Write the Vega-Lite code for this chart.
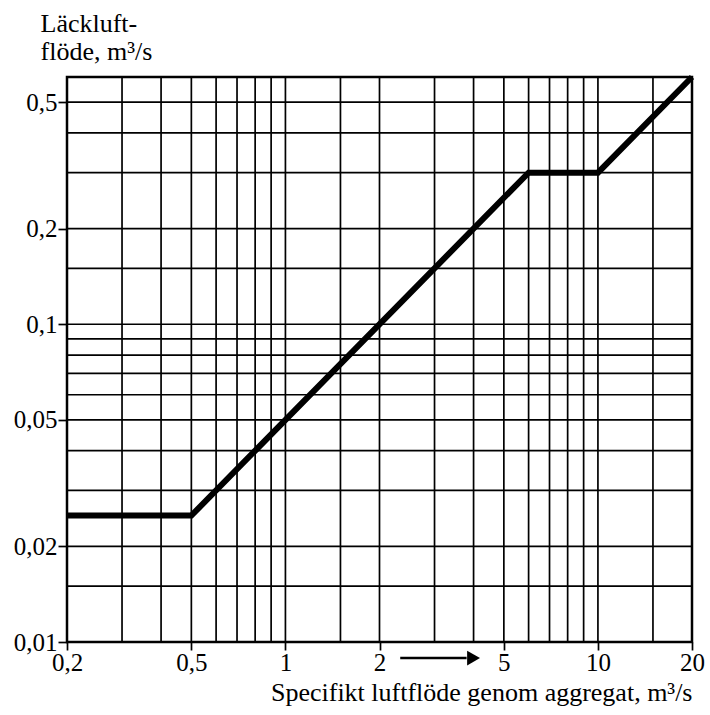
{
  "$schema": "https://vega.github.io/schema/vega-lite/v6.json",
  "width": 625,
  "height": 565,
  "autosize": "none",
  "padding": {"left": 67, "top": 77, "right": 18, "bottom": 73},
  "background": "white",
  "config": {
    "view": {"stroke": "black", "strokeWidth": 2.5},
    "font": "Liberation Serif"
  },
  "datasets": {
    "curve": [
      {"x": 0.2, "y": 0.025},
      {"x": 0.5, "y": 0.025},
      {"x": 6, "y": 0.3},
      {"x": 10, "y": 0.3},
      {"x": 20, "y": 0.6}
    ],
    "xgrid": [
      {"g": 0.3}, {"g": 0.4}, {"g": 0.5}, {"g": 0.6}, {"g": 0.7}, {"g": 0.8}, {"g": 0.9},
      {"g": 1}, {"g": 1.5}, {"g": 2}, {"g": 3}, {"g": 4}, {"g": 5}, {"g": 6}, {"g": 7},
      {"g": 8}, {"g": 9}, {"g": 10}, {"g": 15}
    ],
    "ygrid": [
      {"g": 0.015}, {"g": 0.02}, {"g": 0.03}, {"g": 0.04}, {"g": 0.05}, {"g": 0.06},
      {"g": 0.07}, {"g": 0.08}, {"g": 0.09}, {"g": 0.1}, {"g": 0.15}, {"g": 0.2},
      {"g": 0.3}, {"g": 0.4}, {"g": 0.5}
    ],
    "arrow": [
      {"x1": 2.33, "x2": 3.8, "y": 0.0089}
    ],
    "arrowhead": [
      {"x": 4.0, "y": 0.0089}
    ]
  },
  "layer": [
    {
      "data": {"name": "xgrid"},
      "mark": {"type": "rule", "color": "black", "strokeWidth": 1.7},
      "encoding": {
        "x": {
          "field": "g", "type": "quantitative",
          "scale": {"type": "log", "domain": [0.2, 20], "nice": false},
          "axis": {
            "values": [0.2, 0.5, 1, 2, 5, 10, 20],
            "labelExpr": "replace(toString(datum.value), '.', ',')",
            "grid": false,
            "domain": false,
            "tickColor": "black",
            "tickSize": 8,
            "tickWidth": 1.7,
            "labelFont": "Liberation Serif",
            "labelFontSize": 25,
            "labelColor": "black",
            "labelPadding": 0,
            "labelFlush": false,
            "title": "Specifikt luftflöde genom aggregat, m³/s",
            "titleFont": "Liberation Serif",
            "titleFontSize": 26,
            "titleFontWeight": "normal",
            "titleColor": "black",
            "titleAnchor": "end",
            "titleAlign": "right",
            "titleBaseline": "alphabetic",
            "titleX": 625,
            "titleY": 58
          }
        }
      }
    },
    {
      "data": {"name": "ygrid"},
      "mark": {"type": "rule", "color": "black", "strokeWidth": 1.7},
      "encoding": {
        "y": {
          "field": "g", "type": "quantitative",
          "scale": {"type": "log", "domain": [0.01, 0.6], "nice": false},
          "axis": {
            "values": [0.01, 0.02, 0.05, 0.1, 0.2, 0.5],
            "labelExpr": "replace(toString(datum.value), '.', ',')",
            "grid": false,
            "domain": false,
            "tickColor": "black",
            "tickSize": 9,
            "tickWidth": 1.7,
            "labelFont": "Liberation Serif",
            "labelFontSize": 25,
            "labelColor": "black",
            "labelPadding": 1,
            "labelFlush": false,
            "title": ["Läckluft-", "flöde, m³/s"],
            "titleFont": "Liberation Serif",
            "titleFontSize": 26,
            "titleFontWeight": "normal",
            "titleColor": "black",
            "titleAngle": 0,
            "titleAlign": "left",
            "titleAnchor": "start",
            "titleBaseline": "alphabetic",
            "titleLineHeight": 28,
            "titleX": -27,
            "titleY": -46
          }
        }
      }
    },
    {
      "data": {"name": "curve"},
      "mark": {"type": "line", "color": "black", "strokeWidth": 6, "strokeJoin": "miter"},
      "encoding": {
        "x": {"field": "x", "type": "quantitative"},
        "y": {"field": "y", "type": "quantitative"}
      }
    },
    {
      "data": {"name": "arrow"},
      "mark": {"type": "rule", "color": "black", "strokeWidth": 2.5},
      "encoding": {
        "x": {"field": "x1", "type": "quantitative"},
        "x2": {"field": "x2"},
        "y": {"field": "y", "type": "quantitative"}
      }
    },
    {
      "data": {"name": "arrowhead"},
      "mark": {"type": "point", "shape": "triangle-right", "filled": true, "color": "black", "size": 220, "opacity": 1},
      "encoding": {
        "x": {"field": "x", "type": "quantitative"},
        "y": {"field": "y", "type": "quantitative"}
      }
    }
  ]
}
